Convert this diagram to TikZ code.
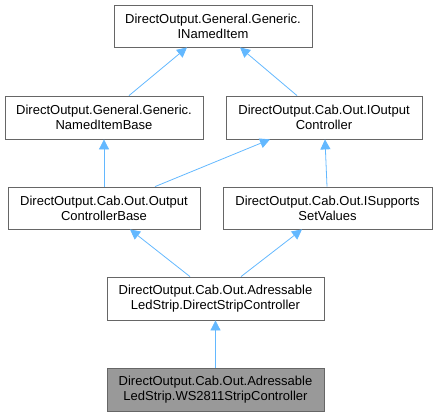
\documentclass[tikz,border=0pt]{standalone}
\usepackage{fontspec}
\setmainfont{Liberation Sans}
\usetikzlibrary{arrows.meta}
\definecolor{edgeblue}{HTML}{63B8FF}
\definecolor{boxgray}{HTML}{666666}
\definecolor{curfill}{HTML}{999999}
\begin{document}
\begin{tikzpicture}[x=1pt,y=-1pt,
  cls/.style={draw=boxgray,line width=0.8pt,fill=white,align=center,inner sep=0pt,
    font=\fontsize{13}{15}\selectfont,text=black},
  inh/.style={draw=edgeblue,line width=0.8pt,-{Triangle[length=10pt,width=10pt,fill=edgeblue]}}]
\useasboundingbox (0,0) rectangle (438,416);
\node[cls,minimum width=198pt,minimum height=42pt] (top) at (213,26) {DirectOutput.General.Generic.\\INamedItem};
\node[cls,minimum width=198pt,minimum height=43pt] (nib) at (104,117.5) {DirectOutput.General.Generic.\\NamedItemBase};
\node[cls,minimum width=196pt,minimum height=43pt] (ioc) at (324,117.5) {DirectOutput.Cab.Out.IOutput\\Controller};
\node[cls,minimum width=192pt,minimum height=42pt] (ocb) at (104,208) {DirectOutput.Cab.Out.Output\\ControllerBase};
\node[cls,minimum width=209pt,minimum height=42pt] (isv) at (327.5,208) {DirectOutput.Cab.Out.ISupports\\SetValues};
\node[cls,minimum width=217pt,minimum height=43pt] (dsc) at (215.5,298.5) {DirectOutput.Cab.Out.Adressable\\LedStrip.DirectStripController};
\node[cls,fill=curfill,minimum width=217pt,minimum height=43pt] (ws) at (215.5,389.5) {DirectOutput.Cab.Out.Adressable\\LedStrip.WS2811StripController};
\draw[inh] ([xshift=25pt]nib.north) -- ([xshift=-26pt]top.south);
\draw[inh] ([xshift=-27pt]ioc.north) -- ([xshift=27pt]top.south);
\draw[inh] ([xshift=51pt]ocb.north) -- ([xshift=-54pt]ioc.south);
\draw[inh] (ocb.north) -- (nib.south);
\draw[inh] ([xshift=-0.5pt]isv.north) -- ([xshift=1pt]ioc.south);
\draw[inh] ([xshift=-25.5pt]dsc.north) -- ([xshift=26pt]ocb.south);
\draw[inh] ([xshift=25.5pt]dsc.north) -- ([xshift=-25.5pt]isv.south);
\draw[inh] (ws.north) -- (dsc.south);
\end{tikzpicture}
\end{document}
